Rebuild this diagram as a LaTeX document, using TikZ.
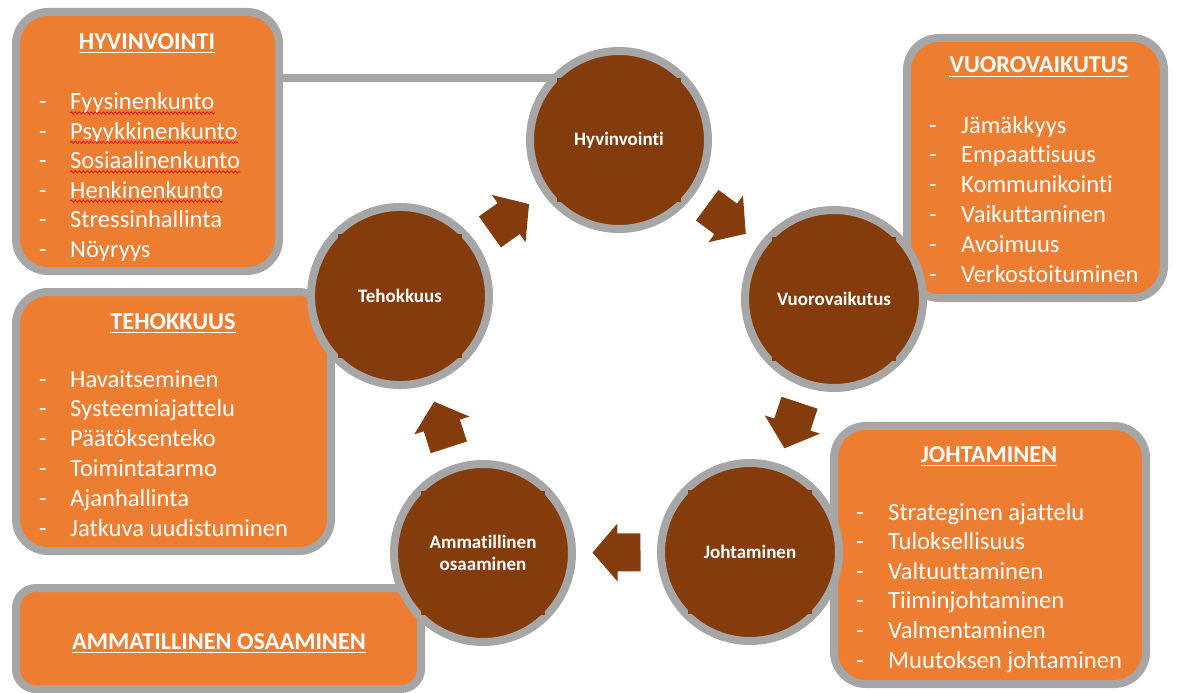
\documentclass[tikz,border=0pt]{standalone}
\usepackage{fontspec}
\setmainfont[Ligatures=NoCommon]{Carlito}
\usetikzlibrary{calc,decorations.pathmorphing}
\definecolor{orng}{HTML}{ED7D31}
\definecolor{brwn}{HTML}{843C0C}
\definecolor{ringgray}{HTML}{A6A6A6}
\definecolor{spellred}{HTML}{E02020}
\tikzset{
  box/.style={draw=ringgray, line width=8pt, fill=orng, rounded corners=32pt, inner sep=0pt, outer sep=0pt},
  circ/.style={circle, draw=ringgray, line width=8pt, fill=brwn, minimum size=178pt, inner sep=0pt, outer sep=0pt, text=white, font=\bfseries\fontsize{19}{22}\selectfont, align=center},
  ttl/.style={text=white, inner sep=0pt, font=\bfseries\fontsize{24.3}{29}\selectfont, anchor=base},
  itm/.style={text=white, inner sep=0pt, font=\fontsize{24.6}{29}\selectfont, anchor=base west},
  dsh/.style={text=white, inner sep=0pt, font=\fontsize{24.6}{29}\selectfont, anchor=base},
  uline/.style={white, line width=1.4pt},
  wavy/.style={spellred, line width=0.9pt, decorate, decoration={snake, amplitude=1.1pt, segment length=4pt}},
  barrow/.pic={\fill[brwn] (-24,-19) -- (-1,-19) -- (-1,-29) -- (24,0) -- (-1,29) -- (-1,19) -- (-24,19) -- cycle;},
}
\begin{document}
\begin{tikzpicture}[x=1pt,y=-1pt]
\useasboundingbox[fill=white] (0,0) rectangle (1178,693);

% circle positions
\coordinate (pH) at (619,140);
\coordinate (pV) at (834,299);
\coordinate (pJ) at (750,552);
\coordinate (pA) at (483,553);
\coordinate (pT) at (400,296);
\coordinate (lnY) at (0,78);

% boxes
\node[box, minimum width=263pt, minimum height=259pt] (bH) at (147.5,141.5) {};
\node[box, minimum width=257pt, minimum height=260pt] (bV) at (1035.5,168) {};
\node[box, minimum width=312pt, minimum height=258pt] (bJ) at (990,555) {};
\node[box, minimum width=315pt, minimum height=259pt] (bT) at (173.5,421.5) {};
\node[box, rounded corners=20pt, minimum width=405pt, minimum height=101pt] (bA) at (218.5,638.5) {};

% connector line from HYVINVOINTI box to circle
\draw[ringgray, line width=8pt] (bH.east |- lnY) -- (pH |- lnY);

% titles
\node[ttl] (tH) at (147,49) {HYVINVOINTI};
\node[ttl] (tV) at (1039,73) {VUOROVAIKUTUS};
\node[ttl] (tJ) at (989,462) {JOHTAMINEN};
\node[ttl] (tT) at (173,329) {TEHOKKUUS};
\node[ttl] (tA) at (219,649) {AMMATILLINEN OSAAMINEN};
\foreach \n in {tH,tV,tJ,tT,tA}
  \draw[uline] ([yshift=-3.5pt]\n.base west) -- ([yshift=-3.5pt]\n.base east);

% lists
\foreach \t [count=\i] in {Fyysinenkunto,Psyykkinenkunto,Sosiaalinenkunto,Henkinenkunto,Stressinhallinta,Nöyryys}{
  \node[dsh] (hd\i) at (43,{110+29.4*(\i-1)}) {-};
  \node[itm] (hi\i) at (70,{110+29.4*(\i-1)}) {\t};
}
\foreach \i in {1,...,4}
  \draw[wavy] ([yshift=-3pt]hi\i.base west) -- ([yshift=-3pt]hi\i.base east);

\foreach \t [count=\i] in {Jämäkkyys,Empaattisuus,Kommunikointi,Vaikuttaminen,Avoimuus,Verkostoituminen}{
  \node[dsh] (vd\i) at (933,{133+29.8*(\i-1)}) {-};
  \node[itm] (vi\i) at (961,{133+29.8*(\i-1)}) {\t};
}
\foreach \t [count=\i] in {Havaitseminen,Systeemiajattelu,Päätöksenteko,Toimintatarmo,Ajanhallinta,Jatkuva uudistuminen}{
  \node[dsh] (td\i) at (43,{387+29.8*(\i-1)}) {-};
  \node[itm] (ti\i) at (70,{387+29.8*(\i-1)}) {\t};
}
\foreach \t [count=\i] in {Strateginen ajattelu,Tuloksellisuus,Valtuuttaminen,Tiiminjohtaminen,Valmentaminen,Muutoksen johtaminen}{
  \node[dsh] (jd\i) at (860,{520+29.6*(\i-1)}) {-};
  \node[itm] (ji\i) at (888,{520+29.6*(\i-1)}) {\t};
}

% circles
\node[circ] (cH) at (pH) {Hyvinvointi};
\node[circ] (cV) at (pV) {Vuorovaikutus};
\node[circ] (cJ) at (pJ) {Johtaminen};
\node[circ] (cA) at (pA) {Ammatillinen\\osaaminen};
\node[circ] (cT) at (pT) {Tehokkuus};
\foreach \c in {cH,cV,cJ,cA,cT}
  \foreach \a in {45,135,225,315}
    \fill[brwn] ($(\c)+(\a:84.5)$) +(-2.5,-2.5) rectangle +(2.5,2.5);

% block arrows between circles
\foreach \s/\e in {cT/cH,cH/cV,cV/cJ,cJ/cA,cA/cT}
  \path let \p1=($(\e)-(\s)$), \n1={atan2(\y1,\x1)} in
    ($(\s)!0.5!(\e)$) pic[rotate=\n1] {barrow};
\end{tikzpicture}
\end{document}
